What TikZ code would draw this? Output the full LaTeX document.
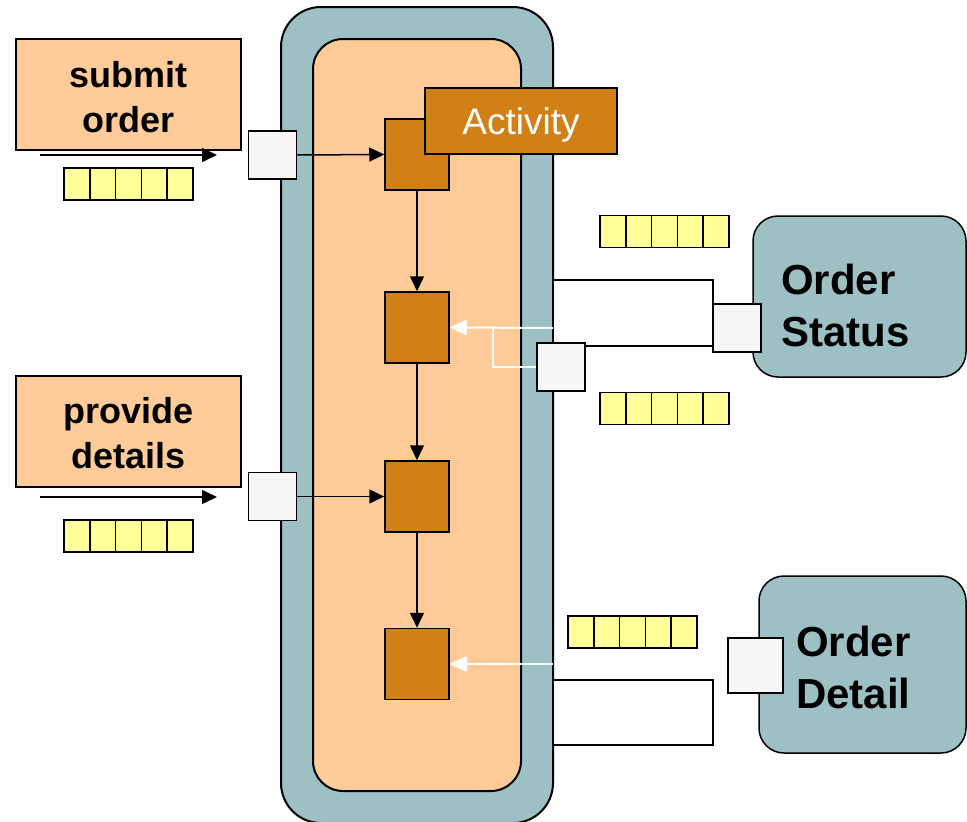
\documentclass[tikz,border=0pt]{standalone}
\usepackage{fontspec}
\setmainfont{Liberation Sans}
\usetikzlibrary{arrows.meta}
\definecolor{laneteal}{HTML}{9DC0C4}
\definecolor{peach}{HTML}{FFCC99}
\definecolor{actorange}{HTML}{D08015}
\definecolor{qyellow}{HTML}{FFFF99}
\definecolor{pingrey}{HTML}{F7F7F7}
\tikzset{
    lane/.style = {draw, fill=laneteal, line width=2pt, inner sep=0pt},
    region/.style = {draw, fill=peach, line width=2pt, inner sep=0pt},
    taskbox/.style = {draw, fill=peach, line width=1.5pt, align=center,
        minimum width=225pt, minimum height=111pt,
        font=\fontsize{36}{45}\selectfont\bfseries},
    tasktext/.style = {align=center, inner sep=0pt,
        font=\fontsize{36}{45}\selectfont\bfseries},
    action/.style = {draw, fill=actorange, line width=1.5pt,
        minimum width=64pt, minimum height=71pt, inner sep=0pt},
    actlabel/.style = {draw, fill=actorange, line width=1.5pt, text=white,
        minimum width=192pt, minimum height=66pt, text depth=0pt,
        font=\fontsize{37}{44}\selectfont},
    pinbox/.style = {draw, fill=pingrey, line width=1.5pt,
        minimum size=48pt, inner sep=0pt},
    flowbox/.style = {draw, fill=white, line width=1.5pt,
        minimum width=160pt, inner sep=0pt},
    partner/.style = {draw, fill=laneteal, line width=1.5pt,
        rounded corners=25pt, inner sep=0pt},
    bigtext/.style = {align=left, inner sep=0pt,
        font=\fontsize{42}{52}\selectfont\bfseries},
    qcell/.style = {draw, fill=qyellow, line width=1.5pt,
        minimum width=25.8pt, minimum height=32pt, inner sep=0pt},
    flow/.style = {line width=1.5pt, -{Triangle[length=15pt,width=14pt]}},
    backflow/.style = {white, line width=2pt, -{Triangle[length=17pt,width=15pt]}},
    backline/.style = {white, line width=2pt}
}
% a queue of five cells, left edge and vertical centre
\newcommand{\queue}[3]{%
    \foreach \i in {0,...,4}
        \node[qcell] (#1-\i) at ({#2+12.9+25.8*\i},#3) {};
}
\begin{document}
\begin{tikzpicture}[x=1pt,y=-1pt]
    \useasboundingbox (0,0) rectangle (967,822);

    % lanes
    \node[lane, rounded corners=40pt, minimum width=272pt, minimum height=816pt] (outer) at (417,415) {};
    \node[region, rounded corners=30pt, minimum width=208pt, minimum height=752pt] (inner) at (417,415) {};

    % left side
    \node[taskbox] (submit) at (128.5,94.5) {};
    \node[taskbox] (provide) at (128.5,431.5) {};
    \node[tasktext] (submittext) at (128.5,97) {submit\\order};
    \node[tasktext] (providetext) at (128.5,433) {provide\\details};
    \coordinate (inA) at (40,155);
    \coordinate (inAend) at (217,155);
    \coordinate (inB) at (40,497);
    \coordinate (inBend) at (217,497);
    \draw[flow] (inA) -- (inAend);
    \draw[flow] (inB) -- (inBend);
    \queue{qA}{64}{184}
    \queue{qB}{64}{536}

    % actions
    \node[action] (act1) at (417,154.5) {};
    \node[action] (act2) at (417,327.5) {};
    \node[action] (act3) at (417,496.5) {};
    \node[action] (act4) at (417,664) {};
    \node[actlabel] (activity) at (521,121) {Activity};
    \draw[flow] (act1) -- (act2);
    \draw[flow] (act2) -- (act3);
    \draw[flow] (act3) -- (act4);

    % input pins
    \node[pinbox] (pinA) at (272.5,155) {};
    \node[pinbox] (pinB) at (272.5,496.5) {};
    \draw[flow] (pinA.east) -- (act1.west);
    \draw[flow] (pinB.east) -- (act3.west);

    % right side
    \node[partner, minimum width=213pt, minimum height=161pt] (status) at (859.5,296.5) {};
    \node[partner, minimum width=207pt, minimum height=177pt] (detail) at (862.5,664.5) {};
    \node[bigtext, anchor=west] (statustext) at (781,305) {Order\\Status};
    \node[bigtext, anchor=west] (detailtext) at (796,667) {Order\\Detail};
    \node[flowbox, minimum height=66pt] (flowA) at (633,313) {};
    \node[flowbox, minimum height=65pt] (flowB) at (633,712.5) {};
    \node[pinbox] (pinS) at (737,328) {};
    \node[pinbox, minimum size=55pt] (pinD) at (755.5,665.5) {};
    \node[pinbox] (pinOut) at (561,367) {};
    \queue{qS}{600}{231.5}
    \queue{qT}{600}{408.5}
    \queue{qD}{568}{632}

    % flows back into the activity
    \coordinate (edgeS) at (553,328);
    \coordinate (split) at (493,328);
    \coordinate (edgeD) at (553,664);
    \draw[backflow] (edgeS) -- (act2.east);
    \draw[backline] (split) |- (pinOut.west);
    \draw[backflow] (edgeD) -- (act4.east);
\end{tikzpicture}
\end{document}
